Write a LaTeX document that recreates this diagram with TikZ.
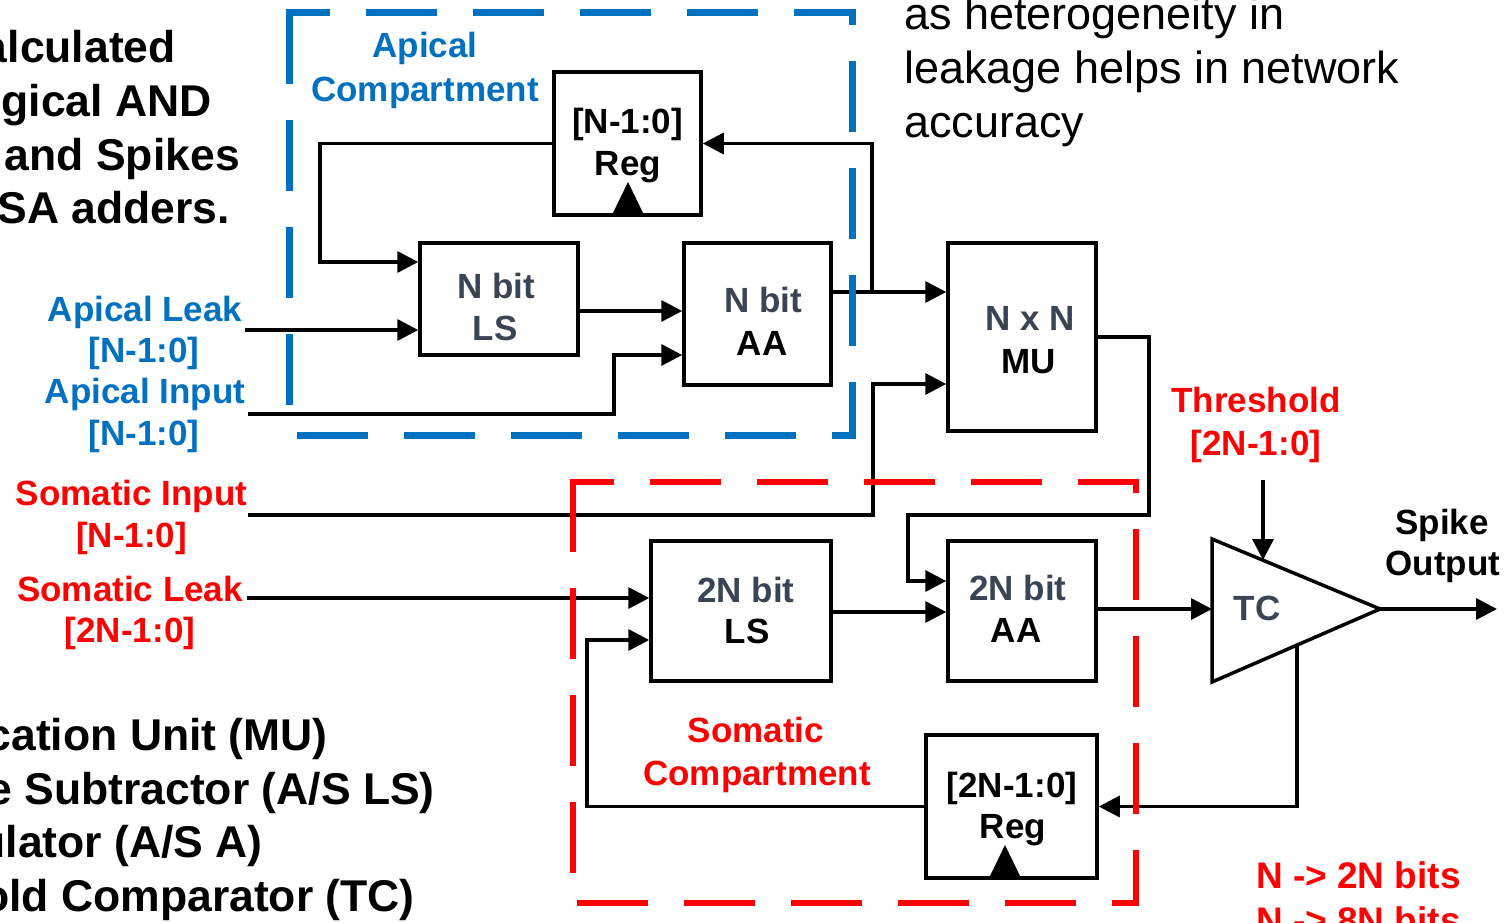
\documentclass[tikz,border=0pt]{standalone}
\usepackage{fontspec}
\setmainfont{Liberation Sans}
\usetikzlibrary{arrows.meta,calc}
\definecolor{ablue}{HTML}{0070C0}
\definecolor{sred}{HTML}{FF0000}
\definecolor{slate}{HTML}{3B4454}
\newcommand\dfont{\fontsize{35}{42}\selectfont\bfseries}
\newcommand\bigfont{\fontsize{44.5}{53}\selectfont\bfseries}
\newcommand\notefont{\fontsize{45}{53}\selectfont}
\newcommand\bitsfont{\fontsize{37}{45}\selectfont\bfseries}
\begin{document}
\begin{tikzpicture}[x=1pt,y=-1pt,
  box/.style={draw,line width=3.5pt,inner sep=0pt},
  conn/.style={line width=3.5pt},
  arr/.style={conn,-{Triangle[length=21pt,width=21pt]}},
  tx/.style={inner sep=0pt,anchor=base,font=\dfont},
  bigtx/.style={inner sep=0pt,anchor=base east,font=\bigfont},
  notetx/.style={inner sep=0pt,anchor=base west,font=\notefont},
  bitstx/.style={inner sep=0pt,anchor=base west,font=\bitsfont,text=sred},
  bdash/.style={ablue,line width=7pt,dash pattern=on 71pt off 36pt},
  rdash/.style={sred,line width=6.5pt,dash pattern=on 71pt off 36pt},
]
\useasboundingbox (0,0) rectangle (1509,923);
\clip (0,0) rectangle (1509,923);
\fill[white] (0,0) rectangle (1509,923);

% ---------- side texts ----------
\node[bigtx] (l1) at (176,63) {alculated};
\node[bigtx] (l2) at (212,116.5) {gical AND};
\node[bigtx] (l3) at (240,170) {and Spikes};
\node[bigtx] (l4) at (230,223) {SA adders.};
\node[bigtx] (b1) at (328,750) {cation Unit (MU)};
\node[bigtx] (b2) at (435,804) {e Subtractor (A/S LS)};
\node[bigtx] (b3) at (263,857) {ulator (A/S A)};
\node[bigtx] (b4) at (415,911) {old Comparator (TC)};
\node[notetx] (n1) at (904,30) {as heterogeneity in};
\node[notetx] (n2) at (904,83.5) {leakage helps in network};
\node[notetx] (n3) at (904,137) {accuracy};
\node[bitstx] (bits1) at (1256,888) {N -> 2N bits};
\node[bitstx] (bits2) at (1256,933) {N -> 8N bits};

% ---------- blocks ----------
\node[box,minimum width=147pt,minimum height=143pt] (regA) at (627.5,143.5) {};
\node[box,minimum width=158pt,minimum height=112pt] (lsA) at (499,299) {};
\node[box,minimum width=147pt,minimum height=142pt] (aaA) at (757.5,314) {};
\node[box,minimum width=148pt,minimum height=188pt] (mu) at (1022,337) {};
\node[box,minimum width=180pt,minimum height=140pt] (lsS) at (741,611) {};
\node[box,minimum width=148pt,minimum height=140pt] (aaS) at (1022,611) {};
\node[box,minimum width=171pt,minimum height=143pt] (regS) at (1011.5,806.5) {};

% clock marks
\fill (612,215) -- (628,182) -- (644,215) -- cycle;
\fill (989,878) -- (1005,845) -- (1021,878) -- cycle;

% threshold comparator
\coordinate (tcA) at (1212,539);
\coordinate (tcB) at (1212,682);
\coordinate (tcC) at (1380,609);
\draw[conn,line join=miter] (tcA) -- (tcC) -- (tcB) -- cycle;
\coordinate (tcIn) at (1212,609);
\coordinate (tcTop) at (1263,560);
\coordinate (tcBot) at (1297,645);

% ---------- block texts ----------
\node[tx] (regAt1) at (627.5,134) {[N-1:0]};
\node[tx] (regAt2) at (628,175) {Reg};
\node[tx,text=slate] (lsAt1) at (496,298) {N bit};
\node[tx,text=slate] (lsAt2) at (495,340) {LS};
\node[tx,text=slate] (aaAt1) at (763,312) {N bit};
\node[tx] (aaAt2) at (762,355) {AA};
\node[tx,text=slate] (mut1) at (1030,330) {N x N};
\node[tx] (mut2) at (1029,373) {MU};
\node[tx,text=slate] (lsSt1) at (746,602) {2N bit};
\node[tx] (lsSt2) at (747,643) {LS};
\node[tx,text=slate] (aaSt1) at (1018,600) {2N bit};
\node[tx] (aaSt2) at (1016,642) {AA};
\node[tx] (regSt1) at (1012,797) {[2N-1:0]};
\node[tx] (regSt2) at (1013,838) {Reg};
\node[tx,text=slate] (tct) at (1257,620) {TC};

% ---------- labels ----------
\node[tx,text=ablue] (apc1) at (425,58) {Apical};
\node[tx,text=ablue] (apc2) at (425,102) {Compartment};
\node[tx,text=ablue] (al1) at (145,321) {Apical Leak};
\node[tx,text=ablue] (al2) at (144,362) {[N-1:0]};
\node[tx,text=ablue] (ai1) at (145,403) {Apical Input};
\node[tx,text=ablue] (ai2) at (144,445) {[N-1:0]};
\node[tx,text=sred] (si1) at (131.5,505) {Somatic Input};
\node[tx,text=sred] (si2) at (131.5,547) {[N-1:0]};
\node[tx,text=sred] (sl1) at (130,601) {Somatic Leak};
\node[tx,text=sred] (sl2) at (130,642) {[2N-1:0]};
\node[tx,text=sred] (th1) at (1256,412) {Threshold};
\node[tx,text=sred] (th2) at (1256,455) {[2N-1:0]};
\node[tx] (sp1) at (1442,534) {Spike};
\node[tx] (sp2) at (1443,575) {Output};
\node[tx,text=sred] (soc1) at (756,742) {Somatic};
\node[tx,text=sred] (soc2) at (757,785) {Compartment};

% ---------- connectors ----------
\coordinate (alS) at (245,330);
\coordinate (aiS) at (248,414);
\coordinate (siS) at (248,515);
\coordinate (slS) at (247,598);
\coordinate (thS) at (1263,480);
\coordinate (spOut) at (1497,609);
\coordinate (j1) at (872,292);

\draw[arr] (regA.west) -- (320,143.5) |- (lsA.west |- 0,262);
\draw[arr] (alS) -- (lsA.west |- alS);
\draw[arr] (lsA.east |- 0,311) -- (aaA.west |- 0,311);
\draw[arr] (aiS) -| (614,355) -- (aaA.west |- 0,355);
\draw[arr] (aaA.east |- j1) -- (mu.west |- j1);
\draw[arr] (j1) |- (regA.east);
\draw[arr] (siS) -| (873,384) -- (mu.west |- 0,384);
\draw[arr] (mu.east |- 0,337) -| (1149,515) -| (908,581) -- (aaS.west |- 0,581);
\draw[arr] (slS) -- (lsS.west |- slS);
\draw[arr] (lsS.east |- 0,612) -- (aaS.west |- 0,612);
\draw[arr] (aaS.east |- tcIn) -- (tcIn);
\draw[arr] (tcC) -- (spOut);
\draw[arr] (thS) -- (tcTop);
\draw[arr] (tcBot) |- (regS.east);
\draw[arr] (regS.west) -| (587,640) -- (lsS.west |- 0,640);

% ---------- dashed compartments ----------
\draw[bdash,dash phase=26.5pt] (285.5,13) -- (855.5,13);
\draw[bdash,dash phase=55.5pt] (852,9.5) -- (852,438.5);
\draw[bdash,dash phase=47.5pt] (855.5,435) -- (285.5,435);
\draw[bdash,dash phase=73.5pt] (289,438.5) -- (289,9.5);
\draw[rdash,dash phase=26.75pt] (569.75,482) -- (1139.25,482);
\draw[rdash,dash phase=56.75pt] (1136,478.75) -- (1136,906.25);
\draw[rdash,dash phase=43.75pt] (1139.25,903) -- (569.75,903);
\draw[rdash,dash phase=73.75pt] (573,906.25) -- (573,478.75);
\end{tikzpicture}
\end{document}
